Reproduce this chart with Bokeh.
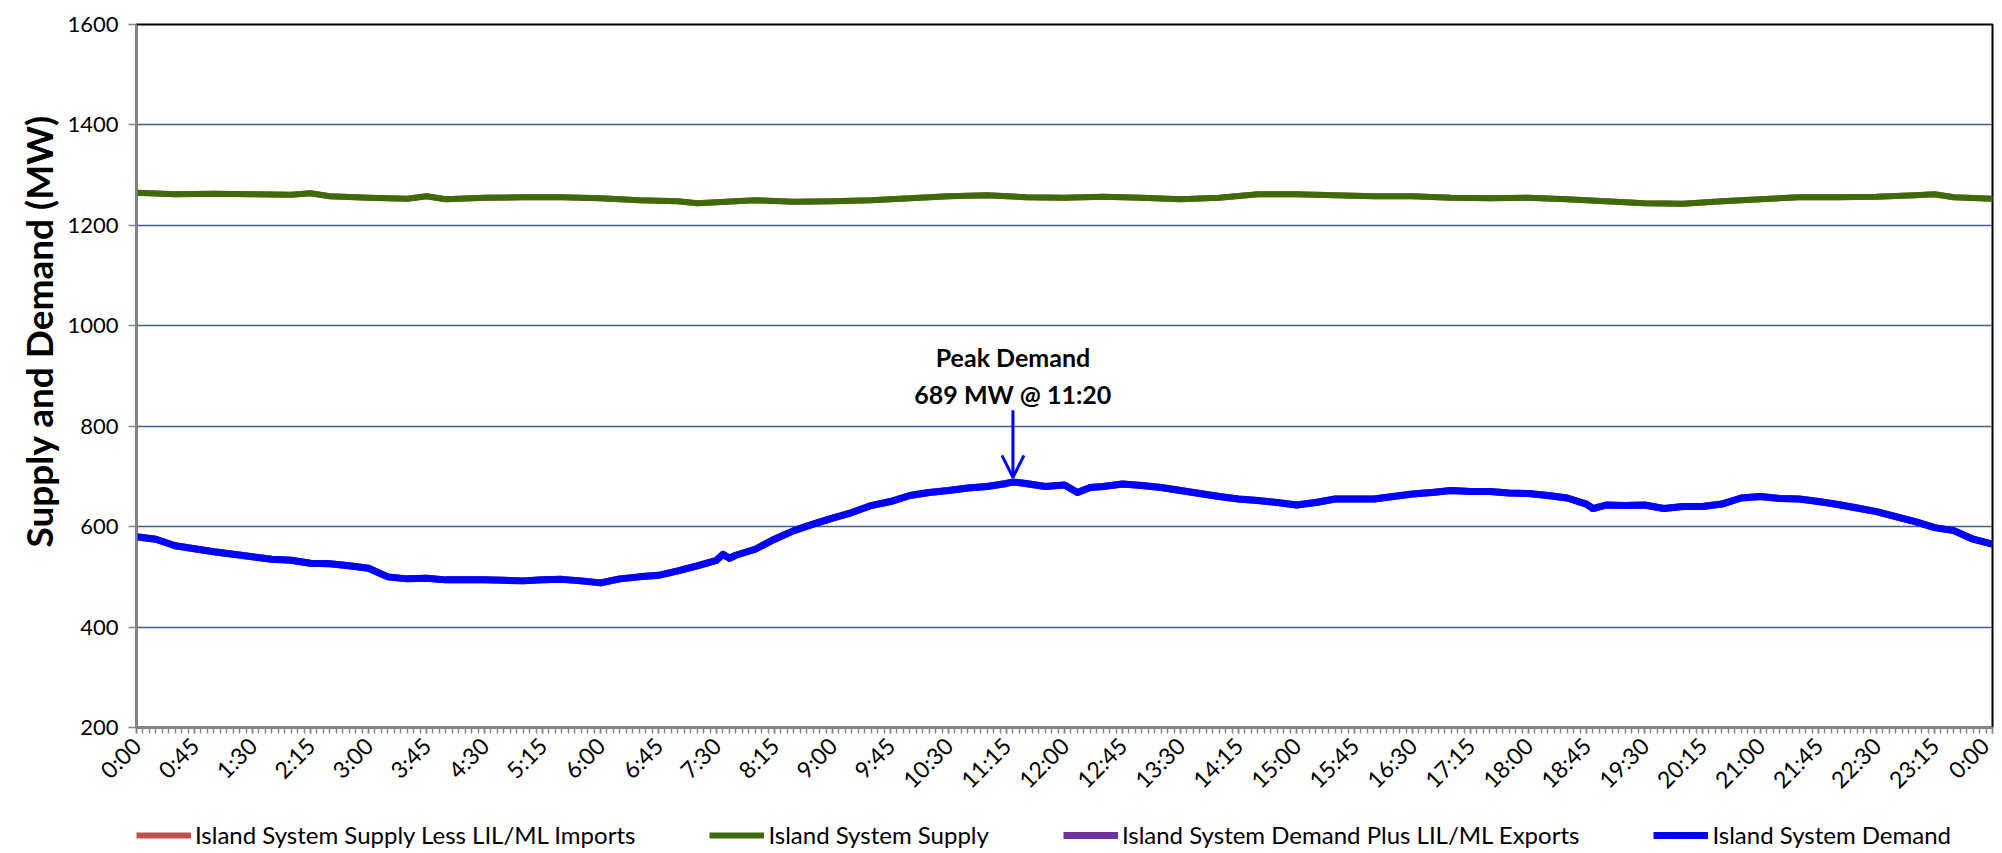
import math
from bokeh.plotting import figure
from bokeh.layouts import column
from bokeh.models import FixedTicker, Legend, LegendItem, Arrow, OpenHead, Label, Range1d, Title
from bokeh.embed import file_html
from bokeh.resources import INLINE

# ---------------- data ----------------
demand_times = ["0:00", "0:15", "0:30", "0:45", "1:00", "1:15", "1:30", "1:45", "2:00", "2:15",
                "2:30", "2:45", "3:00", "3:15", "3:30", "3:45", "4:00", "4:15", "4:30", "4:45",
                "5:00", "5:15", "5:30", "5:45", "6:00", "6:15", "6:30", "6:45", "7:00", "7:15",
                "7:30", "7:35", "7:40", "7:45", "8:00", "8:15", "8:30", "8:45", "9:00", "9:15",
                "9:30", "9:45", "10:00", "10:15", "10:30", "10:45", "11:00", "11:15", "11:20", "11:30",
                "11:45", "12:00", "12:10", "12:20", "12:30", "12:45", "13:00", "13:15", "13:30", "13:45",
                "14:00", "14:15", "14:30", "14:45", "15:00", "15:15", "15:30", "15:45", "16:00", "16:15",
                "16:30", "16:45", "17:00", "17:15", "17:30", "17:45", "18:00", "18:15", "18:30", "18:45",
                "18:50", "19:00", "19:15", "19:30", "19:45", "20:00", "20:15", "20:30", "20:45", "21:00",
                "21:15", "21:30", "21:45", "22:00", "22:15", "22:30", "22:45", "23:00", "23:15", "23:30",
                "23:45", "24:00"]
demand_mw = [580, 575, 562, 556, 550, 545, 540, 535, 533, 527,
             526, 522, 517, 500, 496, 497, 494, 494, 494, 493,
             492, 494, 495, 492, 488, 496, 500, 503, 512, 522,
             533, 545, 537, 543, 555, 575, 592, 605, 617, 628,
             642, 650, 662, 668, 672, 677, 680, 686, 689, 686,
             680, 683, 668, 678, 680, 685, 682, 678, 672, 666,
             660, 655, 652, 648, 643, 648, 655, 655, 655, 660,
             665, 668, 672, 670, 670, 667, 666, 662, 657, 645,
             636, 643, 642, 643, 636, 640, 640, 645, 657, 660,
             656, 655, 650, 644, 637, 630, 620, 610, 598, 592,
             575, 565]

supply_times = ["0:00", "0:30", "1:00", "1:30", "2:00", "2:15", "2:30", "3:00", "3:30", "3:45",
                "4:00", "4:30", "5:00", "5:30", "6:00", "6:30", "7:00", "7:15", "7:30", "8:00",
                "8:30", "9:00", "9:30", "10:00", "10:30", "11:00", "11:30", "12:00", "12:30", "13:00",
                "13:30", "14:00", "14:30", "15:00", "15:30", "16:00", "16:30", "17:00", "17:30", "18:00",
                "18:30", "19:00", "19:30", "20:00", "20:30", "21:00", "21:30", "22:00", "22:30", "23:00",
                "23:15", "23:30", "24:00"]
supply_mw = [1265, 1262, 1263, 1262, 1261, 1264, 1258, 1255, 1253, 1258,
             1252, 1255, 1256, 1256, 1254, 1250, 1248, 1244, 1246, 1250,
             1247, 1248, 1250, 1254, 1258, 1260, 1256, 1255, 1257, 1255,
             1252, 1255, 1262, 1262, 1260, 1258, 1258, 1255, 1254, 1255,
             1252, 1248, 1244, 1243, 1248, 1252, 1256, 1256, 1257, 1260,
             1262, 1256, 1253]

# series with no separate visible trace (they coincide with the ones drawn over them)
supply_less_imports_mw = supply_mw
demand_plus_exports_mw = demand_mw

series_names = ["Island System Supply Less LIL/ML Imports", "Island System Supply",
                "Island System Demand Plus LIL/ML Exports", "Island System Demand"]
series_colors = ["#C0504D", "#3E6B0A", "#7030A0", "#0000FF"]

tick_labels = ["0:00", "0:45", "1:30", "2:15", "3:00", "3:45", "4:30", "5:15", "6:00", "6:45",
               "7:30", "8:15", "9:00", "9:45", "10:30", "11:15", "12:00", "12:45", "13:30", "14:15",
               "15:00", "15:45", "16:30", "17:15", "18:00", "18:45", "19:30", "20:15", "21:00", "21:45",
               "22:30", "23:15", "0:00"]
y_ticks = [200, 400, 600, 800, 1000, 1200, 1400, 1600]

peak_time = "11:20"
peak_mw = 689


def to_min(t):
    h, m = t.split(":")
    return int(h) * 60 + int(m)


dx = [to_min(t) for t in demand_times]
sx = [to_min(t) for t in supply_times]
major_ticks = [i * 45 for i in range(len(tick_labels))]
minor_ticks = list(range(0, 1441, 5))
series_x = [sx, sx, dx, dx]
series_y = [supply_less_imports_mw, supply_mw, demand_plus_exports_mw, demand_mw]

FONT = "Lato"
W = 1994

p = figure(width=W, height=809, output_backend="svg", toolbar_location=None,
           x_range=Range1d(0, 1440), y_range=Range1d(200, 1600),
           min_border_left=136, min_border_right=2, min_border_top=24, min_border_bottom=82)
p.background_fill_color = "white"
p.border_fill_color = "white"
p.outline_line_color = "black"
p.outline_line_width = 2

widths = [6, 6, 7, 7]
for xs, ys, col, w in zip(series_x, series_y, series_colors, widths):
    p.line(xs, ys, line_color=col, line_width=w, line_join="round")

# axes
xa = p.xaxis[0]
xa.ticker = FixedTicker(ticks=major_ticks, minor_ticks=minor_ticks)
xa.major_label_overrides = {t: l for t, l in zip(major_ticks, tick_labels)}
xa.major_label_orientation = math.pi / 4
xa.axis_line_color = "#868686"
xa.axis_line_width = 2
xa.major_tick_line_color = "#868686"
xa.minor_tick_line_color = "#868686"
xa.major_tick_line_width = 1.5
xa.minor_tick_line_width = 1.5
xa.major_tick_in = 0
xa.major_tick_out = 6
xa.minor_tick_in = 0
xa.minor_tick_out = 6
xa.major_label_standoff = 8
xa.major_label_text_font = FONT
xa.major_label_text_font_size = "23px"
xa.major_label_text_color = "black"

ya = p.yaxis[0]
ya.ticker = FixedTicker(ticks=y_ticks)
ya.axis_line_color = "#868686"
ya.axis_line_width = 2
ya.major_tick_line_color = "#868686"
ya.major_tick_line_width = 1.5
ya.major_tick_in = 0
ya.major_tick_out = 8
ya.minor_tick_line_color = None
ya.major_label_standoff = 10
ya.major_label_text_font = FONT
ya.major_label_text_font_size = "22px"
ya.major_label_text_color = "black"

p.xgrid.grid_line_color = None
p.ygrid.ticker = FixedTicker(ticks=y_ticks[1:-1])
p.ygrid.grid_line_color = "#3F5F8F"
p.ygrid.grid_line_width = 1.5

# y-axis title, shifted upward like the original's
p.add_layout(Title(text="Supply and Demand (MW)", align="left", offset=180,
                   text_font=FONT, text_font_style="bold", text_font_size="37px",
                   text_color="black", standoff=8), "left")

# annotation
px = to_min(peak_time)
p.add_layout(Arrow(end=OpenHead(size=22, line_color="#0000FF", line_width=3),
                   x_start=px, y_start=832, x_end=px, y_end=698,
                   line_color="#0000FF", line_width=3))
p.add_layout(Label(x=px, y=937, text="Peak Demand", text_align="center", text_baseline="middle",
                   text_font=FONT, text_font_style="bold", text_font_size="25px", text_color="black"))
p.add_layout(Label(x=px, y=865, text=f"{peak_mw} MW @ {peak_time}", text_align="center",
                   text_baseline="middle", text_font=FONT, text_font_style="bold",
                   text_font_size="25px", text_color="black"))

# legend strip below the chart (its lines lie outside this strip's ranges; only the key shows)
lf = figure(width=W, height=40, output_backend="svg", toolbar_location=None,
            x_range=Range1d(-3, -2), y_range=Range1d(-3, -2),
            min_border_left=75, min_border_right=0, min_border_top=0, min_border_bottom=0)
lf.axis.visible = False
lf.grid.grid_line_color = None
lf.outline_line_color = None
lf.background_fill_color = "white"
lf.border_fill_color = "white"
items = []
for name, xs, ys, col, w in zip(series_names, series_x, series_y, series_colors, widths):
    r = lf.line(xs, ys, line_color=col, line_width=w)
    items.append(LegendItem(label=name, renderers=[r]))
legend = Legend(items=items, orientation="horizontal", location=(0, 0), glyph_width=55,
                glyph_height=24, label_standoff=4, spacing=74, padding=0, margin=0,
                border_line_color=None, background_fill_alpha=0, label_text_font=FONT,
                label_text_font_size="24px", label_text_color="black")
lf.add_layout(legend, "center")

layout = column(p, lf, spacing=0)
open("out.html", "w").write(file_html(layout, INLINE))
